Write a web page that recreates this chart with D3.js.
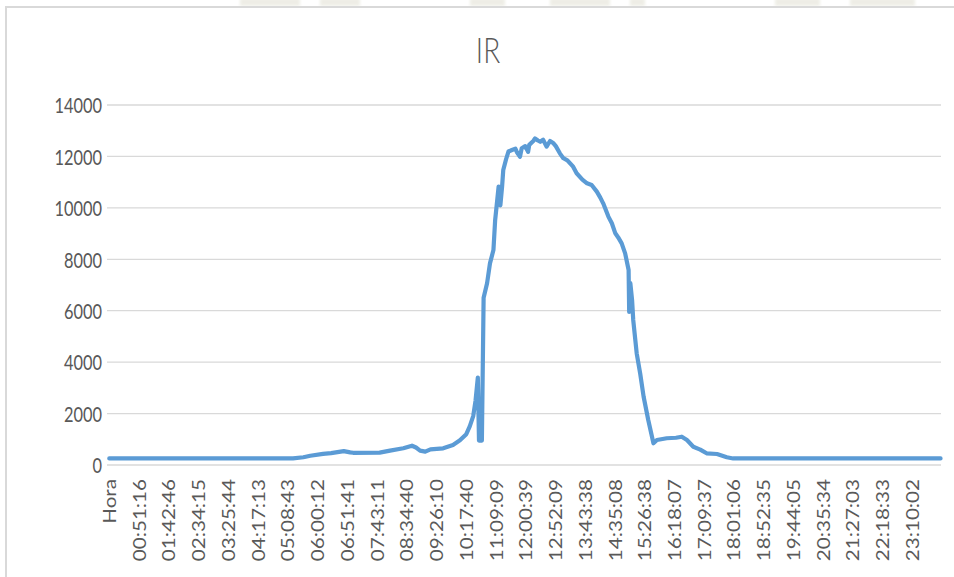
<!DOCTYPE html>
<html>
<head>
<meta charset="utf-8">
<script src="https://cdn.jsdelivr.net/npm/d3@7"></script>
<style>
  html, body { margin: 0; padding: 0; background: #ffffff; }
  svg { display: block; }
  text { font-family: Lato, "Open Sans", "Liberation Sans", sans-serif; fill: #595959; }
</style>
</head>
<body>
<svg id="chart" width="954" height="577"></svg>
<script>
// Chart title and axis text
const chartTitle = "IR";
const yTicks = [0, 2000, 4000, 6000, 8000, 10000, 12000, 14000];
// Category labels shown on the time axis (every 103rd row of the log)
const xTickLabels = ["Hora", "00:51:16", "01:42:46", "02:34:15", "03:25:44", "04:17:13",
  "05:08:43", "06:00:12", "06:51:41", "07:43:11", "08:34:40", "09:26:10", "10:17:40",
  "11:09:09", "12:00:39", "12:52:09", "13:43:38", "14:35:08", "15:26:38", "16:18:07",
  "17:09:37", "18:01:06", "18:52:35", "19:44:05", "20:35:34", "21:27:03", "22:18:33",
  "23:10:02"];
const labelStep = 103;       // rows between shown labels
const categoryCount = 2881;  // header row + one reading every ~30 s
const firstReadingSec = 16;  // time of the first reading (s)
const readingStepSec = 29.995;

// IR readings over the day
const times = ["00:00","05:18","05:36","05:48","06:10","06:24","06:46","06:57","07:02","07:48",
  "08:06","08:29","08:44","08:51","08:58","09:07","09:16","09:38","09:55","10:07",
  "10:18","10:24","10:30","10:34","10:38","10:40","10:42","10:43","10:45","10:48",
  "10:54","10:59","11:05","11:08","11:14","11:17","11:20","11:22","11:27","11:31",
  "11:37","11:43","11:46","11:51","11:54","12:00","12:05","12:07","12:14","12:17",
  "12:22","12:26","12:31","12:37","12:43","12:49","12:53","13:00","13:06","13:13",
  "13:23","13:29","13:39","13:47","13:55","14:04","14:10","14:15","14:24","14:30",
  "14:36","14:41","14:47","14:53","14:59","15:00","15:02","15:05","15:07","15:13",
  "15:19","15:25","15:33","15:42","15:48","16:05","16:21","16:31","16:40","16:51",
  "17:03","17:14","17:32","17:49","18:00","23:59"];
const irValues = [255,255,300,360,430,460,540,490,475,480,
  560,650,750,680,560,520,610,650,780,960,
  1200,1500,1900,2500,3400,950,950,2300,950,6500,
  7070,7840,8360,9530,10830,10100,10830,11470,11900,12190,
  12250,12300,12150,11990,12320,12400,12180,12450,12600,12700,
  12620,12570,12650,12380,12600,12510,12400,12120,11930,11850,
  11600,11345,11100,10955,10890,10630,10400,10175,9660,9400,
  9010,8850,8620,8230,7585,5950,7070,6420,5640,4345,
  3565,2655,1750,845,970,1040,1060,1100,970,712,
  600,455,428,300,255,255];

const svg = d3.select("#chart");
const W = 954, H = 577;
const plot = { left: 109, right: 941, top: 105, bottom: 465 };

// page background with faint, soft letterhead shapes above the chart frame
svg.append("rect").attr("x", 0).attr("y", 0).attr("width", W).attr("height", H).attr("fill", "#ffffff");
const defs = svg.append("defs");
defs.append("filter").attr("id", "soft")
  .append("feGaussianBlur").attr("stdDeviation", 1.6);
const deco = svg.append("g").attr("fill", "#e9e8de").attr("opacity", 0.75).attr("filter", "url(#soft)");
[[240, 300], [320, 360], [470, 505], [550, 610], [630, 645], [775, 820], [850, 915]].forEach(([a, b]) => {
  deco.append("rect").attr("x", a).attr("y", -2).attr("width", b - a).attr("height", 8);
});
svg.append("rect").attr("x", 0).attr("y", 7).attr("width", W).attr("height", H - 7).attr("fill", "#ffffff");

// chart area frame
svg.append("path")
  .attr("d", `M6,${H} L6,7 L${W},7`)
  .attr("fill", "none").attr("stroke", "#d9d9d9").attr("stroke-width", 2);

// scales
const x = d3.scaleLinear().domain([0, categoryCount]).range([plot.left, plot.right]);
const y = d3.scaleLinear().domain([0, 14000]).range([plot.bottom, plot.top]);

function toSec(s) {
  const p = s.split(":").map(Number);
  return p[0] * 3600 + p[1] * 60 + (p[2] || 0);
}
function rowIndex(s) {
  return Math.max(0, 1 + (toSec(s) - firstReadingSec) / readingStepSec);
}

// gridlines
svg.append("g")
  .selectAll("line").data(yTicks.filter(d => d > 0)).join("line")
  .attr("x1", plot.left - 2).attr("x2", plot.right)
  .attr("y1", d => y(d)).attr("y2", d => y(d))
  .attr("stroke", "#d9d9d9").attr("stroke-width", 1.3);

// y axis labels
const yAxis = d3.axisLeft(y).tickValues(yTicks).tickSize(0).tickPadding(0).tickFormat(d3.format("d"));
const yg = svg.append("g").attr("transform", `translate(${plot.left - 7},0)`).call(yAxis);
yg.select(".domain").remove();
yg.selectAll("text")
  .attr("font-size", 16.4)
  .attr("font-family", null)
  .attr("dy", null)
  .attr("x", 0)
  .attr("dominant-baseline", "central")
  .attr("transform", "scale(1,1.25)")
  .style("fill", "#595959");

// category axis line
svg.append("line")
  .attr("x1", plot.left - 2).attr("x2", plot.right)
  .attr("y1", plot.bottom).attr("y2", plot.bottom)
  .attr("stroke", "#d9d9d9").attr("stroke-width", 1.3);

// category labels, rotated
const xg = svg.append("g");
xg.selectAll("text").data(xTickLabels).join("text")
  .attr("transform", (d, i) => `translate(${x(i * labelStep + 0.5)},${plot.bottom + 14}) rotate(-90) scale(1.23,1)`)
  .attr("text-anchor", "end")
  .attr("dominant-baseline", "central")
  .attr("font-size", 16.8)
  .text(d => d);

// IR series
const series = times.map((t, i) => ({ idx: rowIndex(t), v: irValues[i] }));
const line = d3.line().x(d => x(d.idx + 0.5)).y(d => y(d.v));
svg.append("path")
  .datum(series)
  .attr("d", line)
  .attr("fill", "none")
  .attr("stroke", "#5b9bd5")
  .attr("stroke-width", 4.2)
  .attr("stroke-linejoin", "round")
  .attr("stroke-linecap", "round");

// title
svg.append("text")
  .attr("transform", "translate(488,63) scale(1,1.25)")
  .attr("text-anchor", "middle")
  .attr("font-size", 28)
  .attr("font-weight", 300)
  .text(chartTitle);
</script>
</body>
</html>
